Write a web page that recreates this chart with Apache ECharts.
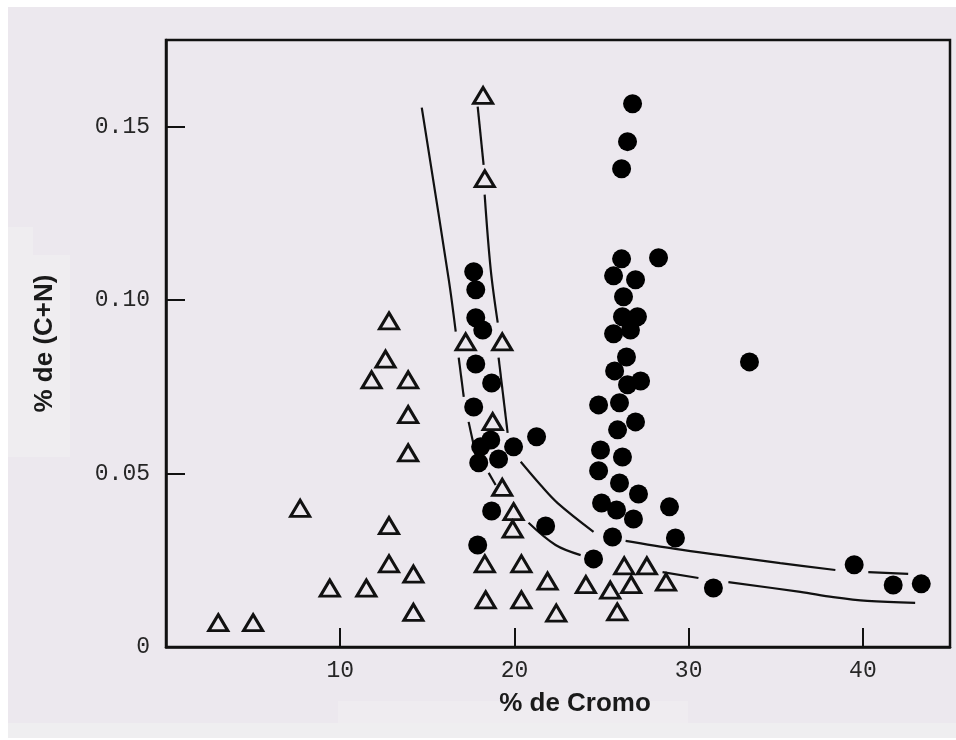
<!DOCTYPE html>
<html>
<head>
<meta charset="utf-8">
<script src="https://cdn.jsdelivr.net/npm/echarts@6/dist/echarts.min.js"></script>
<style>
  html, body { margin: 0; padding: 0; background: #ffffff; }
  #chart { width: 956px; height: 740px; }
</style>
</head>
<body>
<div id="chart"></div>
<script>
// Open triangles: % Cr vs % (C+N)
const triangleCr = [3.0, 5.0, 7.7, 9.4, 11.5, 12.8, 12.6, 11.8, 13.9, 13.9, 13.9, 12.8, 12.8, 14.2, 14.2,
  18.2, 18.3, 17.2, 19.3, 18.75, 19.3, 19.95, 19.9, 18.3, 20.4, 21.9, 18.35, 20.4, 22.4,
  26.3, 27.6, 24.1, 25.5, 26.7, 28.7, 25.9];
const triangleCN = [0.007, 0.007, 0.040, 0.017, 0.017, 0.094, 0.083, 0.077, 0.077, 0.067, 0.056, 0.035, 0.024, 0.021, 0.010,
  0.159, 0.135, 0.088, 0.088, 0.065, 0.046, 0.039, 0.034, 0.024, 0.024, 0.019, 0.0136, 0.0136, 0.0098,
  0.0234, 0.0234, 0.018, 0.0164, 0.018, 0.0187, 0.0101];

// Solid circles: % Cr vs % (C+N)
const circleCr = [17.66, 17.78, 17.78, 18.18, 17.78, 18.69, 17.66, 18.64, 18.06, 19.95, 19.09, 17.95, 21.27, 18.69, 17.89, 21.79,
  26.78, 26.49, 26.15, 26.15, 28.27, 25.69, 26.95, 26.26, 26.2, 27.06, 25.69, 26.66, 26.43, 25.75, 26.49, 27.24,
  24.83, 26.03, 26.95, 25.92, 24.94, 26.2, 24.83, 26.03, 27.12, 25.0, 25.86, 26.83, 25.63, 28.9, 29.24, 24.54,
  33.49, 31.42, 39.5, 41.74, 43.35];
const circleCN = [0.1082, 0.1030, 0.0949, 0.0914, 0.0816, 0.0761, 0.0692, 0.0597, 0.0577, 0.0577, 0.0542, 0.0531, 0.0606, 0.0392, 0.0294, 0.0349,
  0.1566, 0.1457, 0.1379, 0.1119, 0.1122, 0.1070, 0.1059, 0.1010, 0.0952, 0.0952, 0.0903, 0.0914, 0.0836, 0.0796, 0.0756, 0.0767,
  0.0698, 0.0704, 0.0649, 0.0626, 0.0568, 0.0548, 0.0508, 0.0473, 0.0441, 0.0415, 0.0395, 0.0369, 0.0317, 0.0404, 0.0314, 0.0254,
  0.0822, 0.0170, 0.0237, 0.0179, 0.0182];

// Boundary curves, drawn as broken segments
const upperCurve = [
  [[17.89, 0.1558], [18.23, 0.1390]],
  [[18.29, 0.1304], [18.64, 0.1087], [19.04, 0.0935]],
  [[19.09, 0.0834], [19.61, 0.0617]],
  [[20.36, 0.0534], [21.5, 0.0467], [22.48, 0.0415], [24.54, 0.0332]],
  [[26.38, 0.0306], [29.24, 0.0283], [31.82, 0.0265], [35.26, 0.0242], [38.42, 0.0222]],
  [[40.31, 0.0216], [42.6, 0.0211]]
];
const lowerCurve = [
  [[14.68, 0.1555], [16.23, 0.1059], [16.63, 0.0909]],
  [[16.8, 0.0834], [17.09, 0.0721]],
  [[17.37, 0.0649], [17.78, 0.0554]],
  [[18.52, 0.0502], [18.92, 0.0467]],
  [[20.81, 0.0358], [22.36, 0.0294], [23.8, 0.0265]],
  [[28.5, 0.0216], [30.56, 0.0199]],
  [[32.28, 0.0187], [36.41, 0.0159], [38.3, 0.0144], [40.25, 0.0133], [43.0, 0.0127]]
];

const xTickLabels = { 10: '10', 20: '20', 30: '30', 40: '40' };
const yTickLabels = { '0': '0', '0.05': '0.05', '0.1': '0.10', '0.15': '0.15' };

const BG = '#ece8ee';
const INK = '#000000';

function zip(a, b) { return a.map((v, i) => [v, b[i]]); }

const curveSeries = [];
[upperCurve, lowerCurve].forEach(curve => {
  curve.forEach(seg => {
    curveSeries.push({
      type: 'line',
      data: seg,
      smooth: 0.35,
      symbol: 'none',
      lineStyle: { color: '#111111', width: 2.2 },
      z: 2,
      silent: true
    });
  });
});

const chart = echarts.init(document.getElementById('chart'), null, { renderer: 'canvas' });
chart.setOption({
  backgroundColor: BG,
  animation: false,
  graphic: [
    { type: 'rect', shape: { x: 0, y: 0, width: 956, height: 7 }, style: { fill: '#ffffff' }, z: -10 },
    { type: 'rect', shape: { x: 0, y: 0, width: 8, height: 740 }, style: { fill: '#ffffff' }, z: -10 },
    { type: 'rect', shape: { x: 8, y: 723, width: 948, height: 15 }, style: { fill: '#efeef0' }, z: -10 },
    { type: 'rect', shape: { x: 0, y: 738, width: 956, height: 2 }, style: { fill: '#ffffff' }, z: -10 },
    { type: 'rect', shape: { x: 338, y: 701, width: 350, height: 22 }, style: { fill: '#efecf0' }, z: -10 },
    { type: 'rect', shape: { x: 8, y: 227, width: 25, height: 230 }, style: { fill: '#efedf0' }, z: -10 },
    { type: 'rect', shape: { x: 8, y: 255, width: 62, height: 202 }, style: { fill: '#efedf0' }, z: -10 }
  ],
  grid: {
    left: 166, right: 6, top: 40, bottom: 93,
    show: true, borderColor: '#111111', borderWidth: 2.5, backgroundColor: 'transparent'
  },
  xAxis: {
    type: 'value', min: 0, max: 45, interval: 10,
    name: '% de Cromo', nameLocation: 'middle', nameGap: 44,
    nameTextStyle: { fontFamily: 'Liberation Sans', fontWeight: 'bold', fontSize: 26, color: '#1a1a1a', padding: [0, 0, 0, 34] },
    axisLine: { show: true, lineStyle: { color: '#111111', width: 2.5 } },
    axisTick: { show: true, inside: true, length: 19, lineStyle: { color: '#111111', width: 2 } },
    splitLine: { show: false },
    axisLabel: {
      margin: 12, fontFamily: 'Liberation Mono', fontSize: 23, color: '#262626',
      formatter: v => xTickLabels[v] || ''
    }
  },
  yAxis: {
    type: 'value', min: 0, max: 0.175, interval: 0.05,
    name: '% de (C+N)', nameLocation: 'middle', nameGap: 108, nameRotate: 90,
    nameTextStyle: { fontFamily: 'Liberation Sans', fontWeight: 'bold', fontSize: 26, color: '#1a1a1a' },
    axisLine: { show: true, lineStyle: { color: '#111111', width: 2.5 } },
    axisTick: { show: true, inside: true, length: 19, lineStyle: { color: '#111111', width: 2 } },
    splitLine: { show: false },
    axisLabel: {
      margin: 16, fontFamily: 'Liberation Mono', fontSize: 23, color: '#262626',
      padding: [0, 0, 16, 0],
      formatter: v => yTickLabels[String(+v.toFixed(3))] || ''
    }
  },
  series: curveSeries.concat([
    {
      type: 'scatter',
      data: zip(triangleCr, triangleCN),
      symbol: 'triangle',
      symbolSize: [19, 16],
      itemStyle: { color: BG, borderColor: '#111111', borderWidth: 3, opacity: 1 },
      z: 4,
      silent: true
    },
    {
      type: 'scatter',
      data: zip(circleCr, circleCN),
      symbol: 'circle',
      symbolSize: 19,
      itemStyle: { color: INK, opacity: 1 },
      z: 5,
      silent: true
    }
  ])
});
</script>
</body>
</html>
